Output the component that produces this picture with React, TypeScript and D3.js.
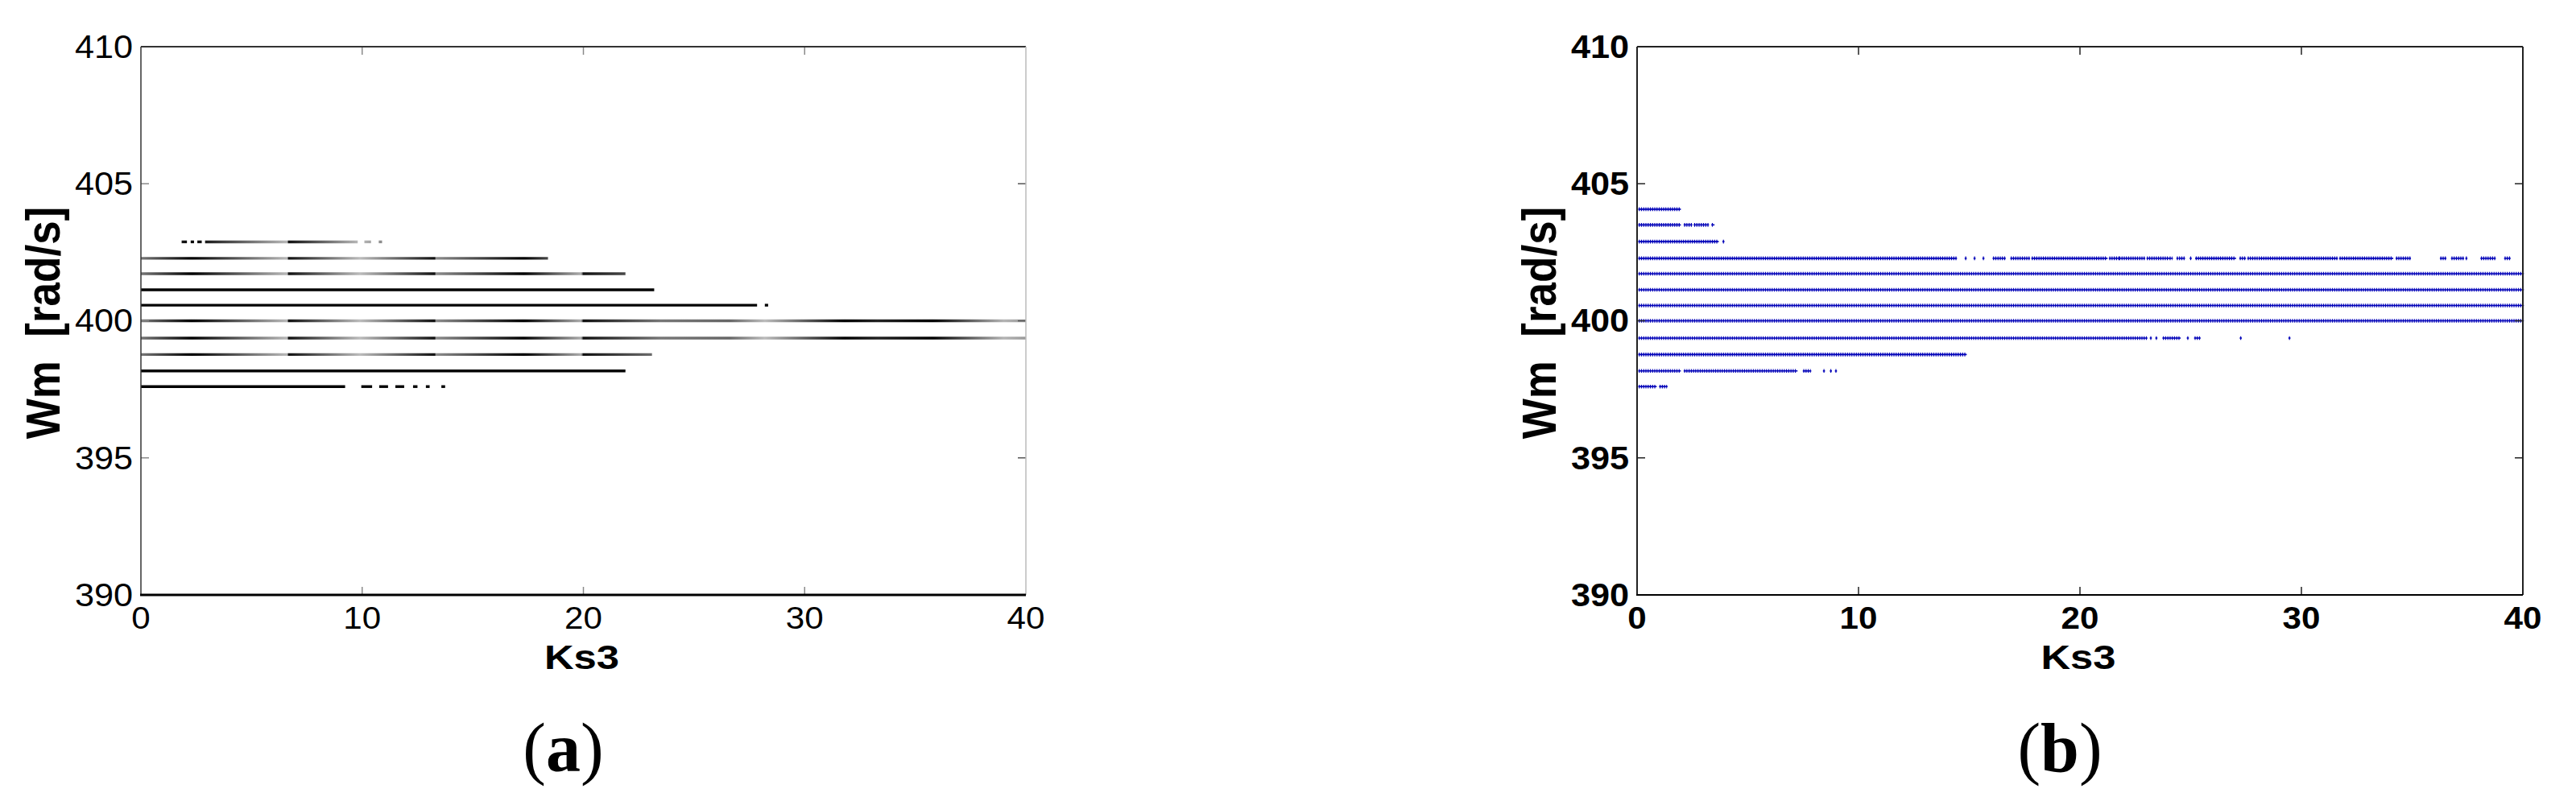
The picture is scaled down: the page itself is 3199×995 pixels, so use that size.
import React from "react";
import * as d3 from "d3";

// ---------- data ----------
const X_DOMAIN = [0, 40];
const Y_DOMAIN = [390, 410];
const X_TICKS = [0, 10, 20, 30, 40];
const Y_TICKS = [390, 395, 400, 405, 410];
const X_LABEL = "Ks3";
const Y_LABEL = "Wm  [rad/s]";
const CAPTIONS = ["a", "b"];

// (a) levels of Wm and the Ks3 ranges where each level is present
const A_LEVELS = [402.88, 402.28, 401.72, 401.13, 400.57, 400.0, 399.37, 398.77, 398.17, 397.6];
const A_SEGMENTS: number[][][] = [
  [[1.84, 2.08], [2.25, 2.4], [2.55, 2.75], [2.9, 9.8], [10.1, 10.4], [10.75, 10.9]],
  [[0, 18.4]],
  [[0, 21.9]],
  [[0, 23.2]],
  [[0, 27.85], [28.2, 28.35]],
  [[0, 40]],
  [[0, 40]],
  [[0, 23.1]],
  [[0, 21.9]],
  [[0, 9.23], [9.96, 10.45], [10.77, 11.17], [11.5, 11.9], [12.3, 12.5], [12.88, 13.05], [13.58, 13.75]],
];
const A_SHADED_LEVELS = [402.88, 402.28, 401.72, 400.0, 399.37, 398.77];
// grey shading seen along the (a) lines: [Ks3, grey]
const A_SHADE: [number, string][] = [
  [0, "#777"], [2.3, "#000"], [6.5, "#b4b4b4"], [6.62, "#b4b4b4"], [6.67, "#111"],
  [9.9, "#bcbcbc"], [13.28, "#111"], [13.34, "#8c8c8c"], [17.3, "#000"], [19.9, "#acacac"],
  [20.0, "#111"], [23.5, "#777"], [26.6, "#666"], [28.2, "#bcbcbc"], [31.8, "#000"],
  [33.3, "#222"], [35.8, "#000"], [39, "#b4b4b4"], [40, "#9a9a9a"],
];

// (b) levels of Wm and the Ks3 ranges where markers are present
const B_LEVELS = [404.07, 403.5, 402.89, 402.28, 401.72, 401.13, 400.56, 400.0, 399.37, 398.77, 398.17, 397.6];
const B_SEGMENTS: number[][][] = [
  [[0.1, 1.93]],
  [[0.1, 1.93], [2.15, 2.45], [2.6, 3.2], [3.4, 3.45]],
  [[0.1, 3.64], [3.9, 3.9]],
  [[0.1, 14.4], [14.84, 14.84], [15.24, 15.24], [15.64, 15.64], [16.1, 16.6], [16.9, 17.7], [17.85, 21.2],
   [21.35, 21.75], [21.8, 22.6], [22.7, 22.9], [23.05, 24.0], [24.07, 24.15], [24.4, 24.4], [24.5, 24.7],
   [25.0, 25.0], [25.25, 27.0], [27.24, 27.45], [27.6, 28.0], [28.1, 31.6], [31.75, 34.1], [34.3, 34.9],
   [36.3, 36.5], [36.8, 37.3], [37.45, 37.45], [38.13, 38.73], [39.2, 39.4]],
  [[0.1, 40]],
  [[0.1, 40]],
  [[0.1, 40]],
  [[0.1, 40]],
  [[0.1, 23.0], [23.2, 23.2], [23.45, 23.45], [23.77, 24.5], [24.87, 24.87], [25.2, 25.4], [27.26, 27.26], [29.46, 29.46]],
  [[0.1, 14.84]],
  [[0.1, 1.93], [2.15, 7.2], [7.53, 7.82], [8.44, 8.44], [8.75, 8.75], [8.98, 8.98]],
  [[0.1, 0.84], [1.04, 1.33]],
];
const B_STEP = 0.1;

// ---------- layout ----------
const W = 3199;
const H = 995;
const TOP = 58;
const BOTTOM = 739;
const PANELS = [
  { left: 175, right: 1274 },
  { left: 2033, right: 3133 },
];
const SANS = "'Liberation Sans', Arial, sans-serif";
const SERIF = "'Liberation Serif', 'Times New Roman', serif";
const BLUE = "#0000b8";

function Frame({ x, y, light }: { x: any; y: any; light: boolean }) {
  const [x0, x1] = x.range();
  const [y0, y1] = [y(Y_DOMAIN[1]), y(Y_DOMAIN[0])];
  const tickLen = 10;
  const tc = light ? "#8a8a8a" : "#222";
  const inner = X_TICKS.slice(1, -1);
  const innerY = Y_TICKS.slice(1, -1);
  return (
    <g>
      {inner.map((t) => (
        <g key={"xt" + t}>
          <line x1={x(t)} x2={x(t)} y1={y0} y2={y0 + tickLen} stroke={tc} strokeWidth={1.5} />
          <line x1={x(t)} x2={x(t)} y1={y1} y2={y1 - tickLen} stroke={tc} strokeWidth={1.5} />
        </g>
      ))}
      {innerY.map((t) => (
        <g key={"yt" + t}>
          <line x1={x0} x2={x0 + tickLen} y1={y(t)} y2={y(t)} stroke={tc} strokeWidth={1.5} />
          <line x1={x1} x2={x1 - tickLen} y1={y(t)} y2={y(t)} stroke={light ? "#555" : tc} strokeWidth={1.5} />
        </g>
      ))}
      <line x1={x0} x2={x1} y1={y0} y2={y0} stroke={light ? "#333" : "#222"} strokeWidth={2} />
      <line x1={x0} x2={x0} y1={y0} y2={y1} stroke={light ? "#333" : "#222"} strokeWidth={light ? 1.5 : 2} />
      <line x1={x1} x2={x1} y1={y0} y2={y1} stroke={light ? "#bbb" : "#222"} strokeWidth={light ? 1.5 : 2} />
      <line x1={x0 - 1} x2={x1} y1={y1} y2={y1} stroke="#000" strokeWidth={light ? 3 : 2} />
    </g>
  );
}

function Labels({ x, y, bold, caption }: { x: any; y: any; bold: boolean; caption: string }) {
  const [x0, x1] = x.range();
  const cx = (x0 + x1) / 2;
  return (
    <g fill="#000">
      {Y_TICKS.map((t) => (
        <text
          key={"yl" + t}
          transform={`translate(${x0 - 10},${y(t)}) scale(1.08,1)`}
          textAnchor="end"
          dominantBaseline="central"
          fontFamily={SANS}
          fontSize={40}
          fontWeight={bold ? 700 : 400}
        >
          {t}
        </text>
      ))}
      {X_TICKS.map((t) => (
        <text
          key={"xl" + t}
          transform={`translate(${x(t)},781) scale(1.08,1)`}
          textAnchor="middle"
          fontFamily={SANS}
          fontSize={39}
          fontWeight={bold ? 700 : 400}
        >
          {t}
        </text>
      ))}
      <text
        transform={`translate(${cx - 2},831) scale(1.18,1)`}
        textAnchor="middle"
        fontFamily={SANS}
        fontSize={43}
        fontWeight={700}
      >
        {X_LABEL}
      </text>
      <text
        transform={`translate(${x0 - 101},401) scale(1.1,1) rotate(-90)`}
        textAnchor="middle"
        fontFamily={SANS}
        fontSize={53}
        fontWeight={700}
        style={{ whiteSpace: "pre" }}
      >
        {Y_LABEL}
      </text>
      <text x={cx - 25} y={958} textAnchor="middle" fontFamily={SERIF} fontSize={86}>
        (<tspan fontWeight={700}>{caption}</tspan>)
      </text>
    </g>
  );
}

export default function App() {
  const y = d3.scaleLinear().domain(Y_DOMAIN).range([BOTTOM, TOP]);
  const xa = d3.scaleLinear().domain(X_DOMAIN).range([PANELS[0].left, PANELS[0].right]);
  const xb = d3.scaleLinear().domain(X_DOMAIN).range([PANELS[1].left, PANELS[1].right]);
  const step = xb(B_STEP) - xb(0);
  const arm = 1.3;

  return (
    <svg
      width={W}
      height={H}
      viewBox={`0 0 ${W} ${H}`}
      style={{ position: "absolute", left: 0, top: 0, background: "#fff" }}
    >
      <defs>
        <linearGradient id="shadeA" gradientUnits="userSpaceOnUse" x1={xa(0)} x2={xa(40)} y1={0} y2={0}>
          {A_SHADE.map(([v, c], i) => (
            <stop key={i} offset={(v - X_DOMAIN[0]) / (X_DOMAIN[1] - X_DOMAIN[0])} stopColor={c} />
          ))}
        </linearGradient>
      </defs>
      <rect x={0} y={0} width={W} height={H} fill="#fff" />

      {/* panel (a) */}
      <g>
        {A_LEVELS.map((lv, i) =>
          A_SEGMENTS[i].map(([a, b], j) => (
            <line
              key={`a${i}-${j}`}
              x1={xa(a)}
              x2={xa(b)}
              y1={y(lv)}
              y2={y(lv)}
              stroke={A_SHADED_LEVELS.includes(lv) ? "url(#shadeA)" : "#000"}
              strokeWidth={3.4}
            />
          ))
        )}
        <Frame x={xa} y={y} light={true} />
        <Labels x={xa} y={y} bold={false} caption={CAPTIONS[0]} />
      </g>

      {/* panel (b): '+' markers drawn as a horizontal stroke plus dashed vertical arms */}
      <g>
        {B_LEVELS.map((lv, i) =>
          B_SEGMENTS[i].map(([a, b], j) => {
            const x1 = xb(a) - arm;
            const x2 = xb(b) + arm;
            return (
              <g key={`b${i}-${j}`}>
                <line x1={x1} x2={x2} y1={y(lv)} y2={y(lv)} stroke={BLUE} strokeWidth={1.6} />
                <line
                  x1={xb(a) - 0.6}
                  x2={xb(b) + 0.6}
                  y1={y(lv)}
                  y2={y(lv)}
                  stroke={BLUE}
                  strokeWidth={4.6}
                  strokeDasharray={`1.2 ${step - 1.2}`}
                />
              </g>
            );
          })
        )}
        <Frame x={xb} y={y} light={false} />
        <Labels x={xb} y={y} bold={true} caption={CAPTIONS[1]} />
      </g>
    </svg>
  );
}
